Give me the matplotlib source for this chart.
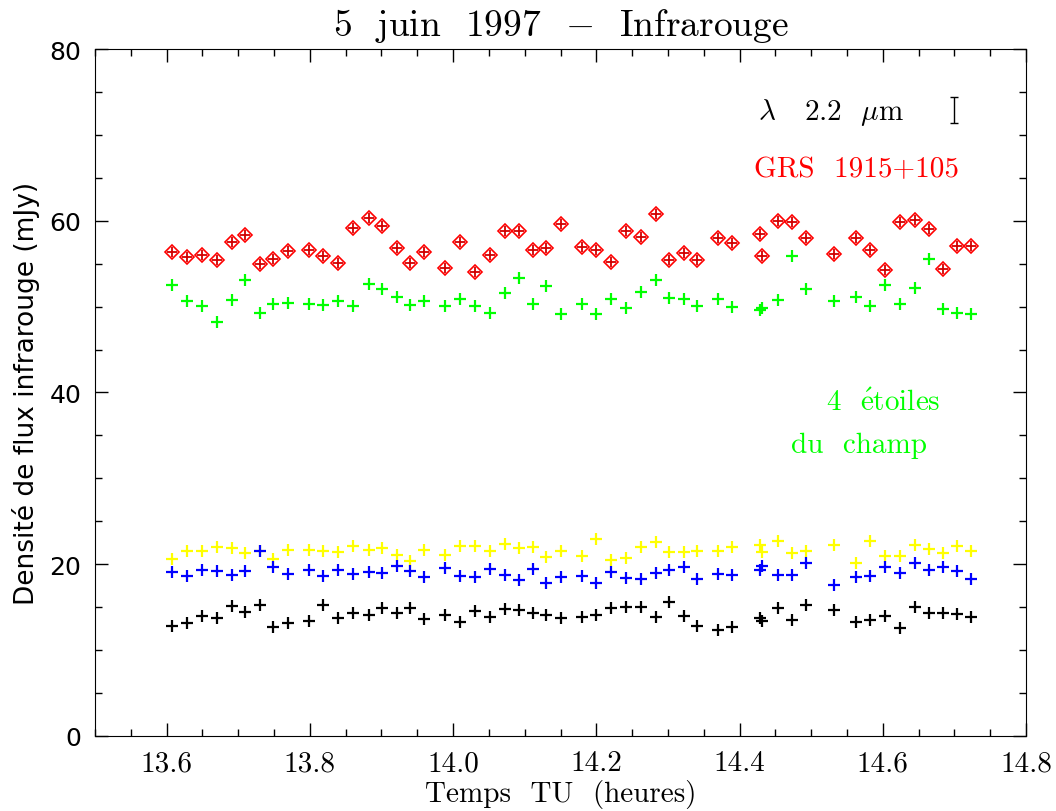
import numpy as np
import matplotlib
matplotlib.use('Agg')
import matplotlib.pyplot as plt

plt.rcParams['mathtext.fontset'] = 'cm'
SERIF = ['cmr10', 'DejaVu Serif']

# temps TU (heures)
t = [13.608, 13.628, 13.649, 13.670, 13.691, 13.710, 13.730, 13.749, 13.769,
     13.799, 13.818, 13.839, 13.860, 13.882, 13.901, 13.921, 13.940, 13.959,
     13.989, 14.009, 14.030, 14.051, 14.072, 14.092, 14.111, 14.130, 14.150,
     14.180, 14.199, 14.220, 14.241, 14.262, 14.283, 14.302, 14.322, 14.341,
     14.370, 14.390, 14.429, 14.431, 14.453, 14.473, 14.493, 14.532, 14.562,
     14.582, 14.603, 14.624, 14.645, 14.664, 14.684, 14.704, 14.723]

grs = [56.33, 55.81, 56.05, 55.43, 57.49, 58.38, 54.96, 55.51, 56.44,
       56.59, 55.86, 55.08, 59.12, 60.36, 59.39, 56.79, 55.05, 56.33,
       54.46, 57.56, 54.07, 56.05, 58.81, 58.81, 56.59, 56.83, 59.59,
       56.94, 56.63, 55.16, 58.84, 58.07, 60.82, 55.43, 56.21, 55.43,
       58.03, 57.44, 58.46, 55.93, 59.94, 59.89, 57.99, 56.09, 57.96,
       56.59, 54.27, 59.89, 60.09, 59.00, 54.35, 57.03, 57.03]

star_green = [52.55, 50.62, 50.04, 48.21, 50.77, 53.14, 49.22, 50.27, 50.39,
              50.27, 50.22, 50.62, 50.04, 52.64, 52.05, 51.09, 50.19, 50.66,
              50.11, 50.89, 50.11, 49.22, 51.59, 53.33, 50.27, 52.44, 49.14,
              50.27, 49.14, 50.85, 49.80, 51.67, 53.10, 51.00, 50.92, 50.11,
              50.89, 49.92, 49.64, 49.88, 50.81, 55.93, 52.09, 50.66, 51.09,
              50.11, 52.48, 50.27, 52.14, 55.55, 49.72, 49.26, 49.14]

star_yellow = [20.61, 21.58, 21.51, 21.97, 21.86, 21.35, 21.58, 20.61, 21.69,
               21.69, 21.58, 21.39, 22.09, 21.69, 21.86, 21.08, 20.34, 21.66,
               21.08, 22.16, 22.09, 21.58, 22.36, 21.86, 21.97, 20.81, 21.51,
               20.93, 22.94, 20.53, 20.69, 21.97, 22.63, 21.46, 21.46, 21.58,
               21.58, 21.97, 22.24, 21.39, 22.67, 21.28, 21.58, 22.24, 20.11,
               22.67, 21.00, 21.00, 22.28, 21.78, 21.28, 22.16, 21.51]

star_blue = [19.06, 18.60, 19.33, 19.25, 18.78, 19.18, 21.58, 19.71, 18.86,
             19.37, 18.60, 19.37, 18.86, 19.13, 18.95, 19.76, 19.18, 18.48,
             19.53, 18.60, 18.55, 19.45, 18.75, 18.17, 19.45, 17.78, 18.48,
             18.60, 17.82, 19.13, 18.36, 18.28, 18.98, 19.33, 19.65, 18.28,
             18.86, 18.75, 19.37, 19.83, 18.75, 18.75, 20.11, 17.62, 18.48,
             18.60, 19.65, 18.95, 20.11, 19.33, 19.65, 19.25, 18.28]

star_black = [12.77, 13.16, 14.01, 13.71, 15.10, 14.47, 15.29, 12.66, 13.16,
              13.43, 15.29, 13.74, 14.32, 14.09, 14.87, 14.32, 14.91, 13.62,
              14.09, 13.31, 14.59, 13.89, 14.79, 14.67, 14.32, 14.13, 13.74,
              13.89, 14.13, 14.87, 15.06, 14.99, 13.89, 15.64, 13.94, 12.84,
              12.34, 12.73, 13.71, 13.36, 14.87, 13.54, 15.25, 14.71, 13.31,
              13.51, 14.01, 12.58, 14.99, 14.32, 14.32, 14.21, 13.89]

xticks = [13.6, 13.8, 14.0, 14.2, 14.4, 14.6, 14.8]
xtick_labels = ['13.6', '13.8', '14.0', '14.2', '14.4', '14.6', '14.8']
yticks = [0, 20, 40, 60, 80]
ytick_labels = ['0', '20', '40', '60', '80']

# barre d'erreur typique
err_t, err_y, err_h = 14.70, 72.9, 1.5

fig = plt.figure(figsize=(10.56, 8.12), dpi=100)
ax = fig.add_axes([0.09, 0.0924, 0.8816, 0.846])

ax.plot(t, grs, 'D', mfc='none', mec='red', ms=6.8, mew=1.2)
ax.plot(t, grs, '+', color='#d00000', ms=7, mew=1.3)
ax.plot(t, star_green, '+', color='#00ff00', ms=9, mew=1.6)
ax.plot(t, star_yellow, '+', color='#ffff00', ms=9, mew=1.6)
ax.plot(t, star_blue, '+', color='#0000ff', ms=9, mew=1.6)
ax.plot(t, star_black, '+', color='black', ms=9, mew=1.6)

ax.errorbar([err_t], [err_y], yerr=[err_h], fmt='none', ecolor='black',
            elinewidth=1, capsize=3, capthick=1)

ax.set_xlim(13.5, 14.8)
ax.set_ylim(0, 80)
ax.set_xticks(xticks, labels=xtick_labels, fontfamily=SERIF, fontsize=21)
ax.set_yticks(yticks, labels=ytick_labels, fontfamily='DejaVu Sans', fontsize=18)
ax.set_xticks(np.arange(13.5, 14.81, 0.05), minor=True)
ax.set_yticks(np.arange(0, 81, 5), minor=True)
ax.tick_params(which='both', direction='in', top=True, right=True, width=1)
ax.tick_params(which='major', length=9.5, pad=10)
ax.tick_params(which='minor', length=5)

ax.set_title(r'5  juin  1997  $-$  Infrarouge', fontfamily=SERIF, fontsize=27, pad=10)
ax.set_xlabel('Temps  TU  (heures)', fontfamily=SERIF, fontsize=21, labelpad=2)
ax.set_ylabel('Densité de flux infrarouge (mJy)', fontfamily='DejaVu Sans',
              fontsize=19, labelpad=7)

ax.text(14.426, 72.7, r'$\lambda$   2.2  $\mu$m', fontfamily=SERIF, fontsize=21,
        va='center', ha='left')
ax.text(14.42, 66.0, 'GRS  1915+105', color='red', fontfamily=SERIF,
        fontsize=21, va='center', ha='left')
ax.text(14.521, 38.8, r'4  $\acute{\mathrm{e}}$toiles', color='#00ff00',
        fontfamily=SERIF, fontsize=21, va='center', ha='left')
ax.text(14.472, 33.9, 'du  champ', color='#00ff00', fontfamily=SERIF,
        fontsize=21, va='center', ha='left')

fig.savefig('out.png', dpi=100)
